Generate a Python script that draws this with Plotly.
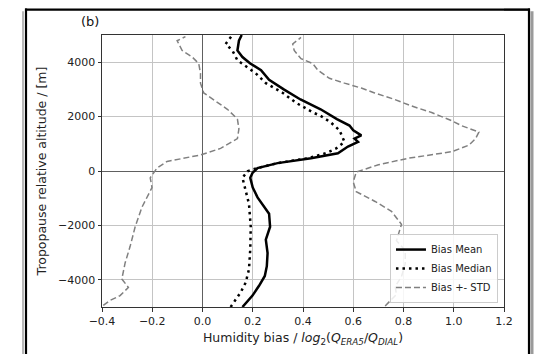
import plotly.graph_objects as go

# ---- data ----
mean_alt = [-5000, -4580, -4220, -3860, -3500, -3020, -2520, -2050, -1570, -1210, -970, -610, -250, -70,
            110, 290, 470, 650, 900, 1070, 1190, 1310, 1500, 1670, 1910, 2270, 2630, 2990, 3350, 3710,
            3950, 4190, 4430, 4790, 5000]
mean_val = [0.159, 0.199, 0.225, 0.248, 0.256, 0.259, 0.252, 0.269, 0.265, 0.239, 0.219, 0.200, 0.190, 0.199,
            0.219, 0.299, 0.432, 0.539, 0.579, 0.619, 0.605, 0.632, 0.600, 0.585, 0.535, 0.470, 0.390, 0.325,
            0.265, 0.233, 0.190, 0.159, 0.139, 0.145, 0.156]

median_alt = [-5000, -4460, -4100, -3610, -2890, -2050, -1210, -730, -250, -10, 110, 290, 470, 650, 830,
              1070, 1310, 1500, 1790, 2030, 2150, 2510, 2870, 3230, 3590, 4070, 4430, 4670, 5000]
median_val = [0.112, 0.152, 0.172, 0.185, 0.190, 0.192, 0.185, 0.172, 0.159, 0.179, 0.219, 0.299, 0.419,
              0.490, 0.532, 0.565, 0.552, 0.545, 0.510, 0.470, 0.440, 0.372, 0.320, 0.252, 0.212, 0.139,
              0.119, 0.092, 0.119]

minus_alt = [-4940, -4760, -4580, -4280, -3970, -3380, -2770, -2050, -1330, -970, -610, -250, -70, 110, 350,
             590, 830, 1190, 1550, 1910, 2270, 2630, 2870, 3230, 3590, 3950, 4190, 4430, 4790, 4940]
minus_val = [-0.395, -0.368, -0.328, -0.295, -0.321, -0.308, -0.288, -0.268, -0.241, -0.221, -0.201, -0.208,
             -0.195, -0.181, -0.141, -0.008, 0.072, 0.139, 0.145, 0.139, 0.099, 0.045, 0.005, -0.008, -0.008,
             -0.015, -0.041, -0.081, -0.101, -0.068]

plus_alt = [-4960, -4540, -4240, -3880, -3400, -2920, -2560, -2320, -1960, -1480, -1120, -760, -400, -40, 230,
            470, 710, 950, 1190, 1430, 1670, 1850, 2150, 2390, 2630, 2870, 3050, 3230, 3410, 3710, 3950, 4130,
            4430, 4670, 4910]
plus_val = [0.727, 0.772, 0.767, 0.792, 0.807, 0.807, 0.772, 0.780, 0.792, 0.752, 0.687, 0.612, 0.600, 0.612,
            0.700, 0.820, 0.993, 1.060, 1.087, 1.100, 1.030, 0.992, 0.912, 0.832, 0.765, 0.685, 0.632, 0.565,
            0.505, 0.459, 0.439, 0.392, 0.365, 0.359, 0.392]

x_ticks = [-0.4, -0.2, 0.0, 0.2, 0.4, 0.6, 0.8, 1.0, 1.2]
x_ticklabels = ["\u22120.4", "\u22120.2", "0.0", "0.2", "0.4", "0.6", "0.8", "1.0", "1.2"]
y_ticks = [-4000, -2000, 0, 2000, 4000]
y_ticklabels = ["\u22124000", "\u22122000", "0", "2000", "4000"]

FONT = "DejaVu Sans"

fig = go.Figure()
fig.add_trace(go.Scatter(x=mean_val, y=mean_alt, mode="lines", name="Bias Mean",
                         line=dict(color="black", width=2.5)))
fig.add_trace(go.Scatter(x=median_val, y=median_alt, mode="lines", name="Bias Median",
                         line=dict(color="black", width=2.5, dash="2.5px,4px")))
fig.add_trace(go.Scatter(x=plus_val, y=plus_alt, mode="lines", name="Bias +- STD", legendgroup="std",
                         line=dict(color="#808080", width=1.5, dash="6px,3px")))
fig.add_trace(go.Scatter(x=minus_val, y=minus_alt, mode="lines", name="Bias +- STD", legendgroup="std",
                         showlegend=False, line=dict(color="#808080", width=1.5, dash="6px,3px")))

axis_common = dict(showgrid=True, gridcolor="#c4c4c4", gridwidth=0.8,
                   zeroline=True, zerolinecolor="#606060", zerolinewidth=1.2,
                   showline=True, mirror=True, linecolor="#333333", linewidth=1,
                   ticks="outside", ticklen=3.5, tickcolor="#333333",
                   tickfont=dict(family=FONT, size=11, color="#222"))

fig.update_xaxes(range=[-0.4, 1.2], tickvals=x_ticks, ticktext=x_ticklabels,
                 title=dict(text="Humidity bias / <i>log</i><sub>2</sub>(<i>Q</i><sub><i>ERA5</i></sub>/<i>Q</i><sub><i>DIAL</i></sub>)",
                            font=dict(family=FONT, size=12.5, color="#222"), standoff=6),
                 **axis_common)
fig.update_yaxes(range=[-5000, 5000], tickvals=y_ticks, ticktext=y_ticklabels,
                 title=dict(text="Tropopause relative altitude / [m]",
                            font=dict(family=FONT, size=12.5, color="#222"), standoff=8),
                 **axis_common)

# outer frame with slight shadow (in paper coords)
def px_x(p):
    return (p - 102) / 402


def px_y(p):
    return (311 - p) / 276


L, R, B = px_x(26), px_x(529), px_y(380)
frame = [
    (px_x(532), px_x(532), px_y(11), B, "#9a9a9a", 3),
    (px_x(23), px_x(23), px_y(11), B, "#b8b8b8", 2),
    (L, L, px_y(8), B, "black", 2.2),
    (R, R, px_y(8), B, "black", 2.2),
]
for x0, x1, y0, y1, c, w in frame:
    fig.add_shape(type="line", xref="paper", yref="paper", x0=x0, x1=x1, y0=y0, y1=y1,
                  line=dict(color=c, width=w), layer="above")
# top edge of the frame, drawn as segments
for xa, xb in [(25, 102), (102, 504), (504, 530)]:
    fig.add_shape(type="rect", xref="paper", yref="paper", x0=px_x(xa), x1=px_x(xb),
                  y0=px_y(10.5), y1=px_y(8), fillcolor="black", line=dict(width=0), layer="above")

fig.add_annotation(text="(b)", xref="paper", yref="paper", x=px_x(90), y=px_y(21),
                   xanchor="center", yanchor="middle",
                   showarrow=False, font=dict(family=FONT, size=13, color="#111"))

fig.update_layout(
    width=537, height=354,
    margin=dict(l=102, r=33, t=35, b=43),
    paper_bgcolor="white", plot_bgcolor="white",
    showlegend=True,
    legend=dict(x=0.985, y=0.0145, xanchor="right", yanchor="bottom",
                bgcolor="rgba(255,255,255,0.85)", bordercolor="#cccccc", borderwidth=1,
                font=dict(family=FONT, size=10, color="#222"),
                tracegroupgap=0, itemwidth=30),
    font=dict(family=FONT),
)

fig.write_html("out.html", config={"displayModeBar": False})
